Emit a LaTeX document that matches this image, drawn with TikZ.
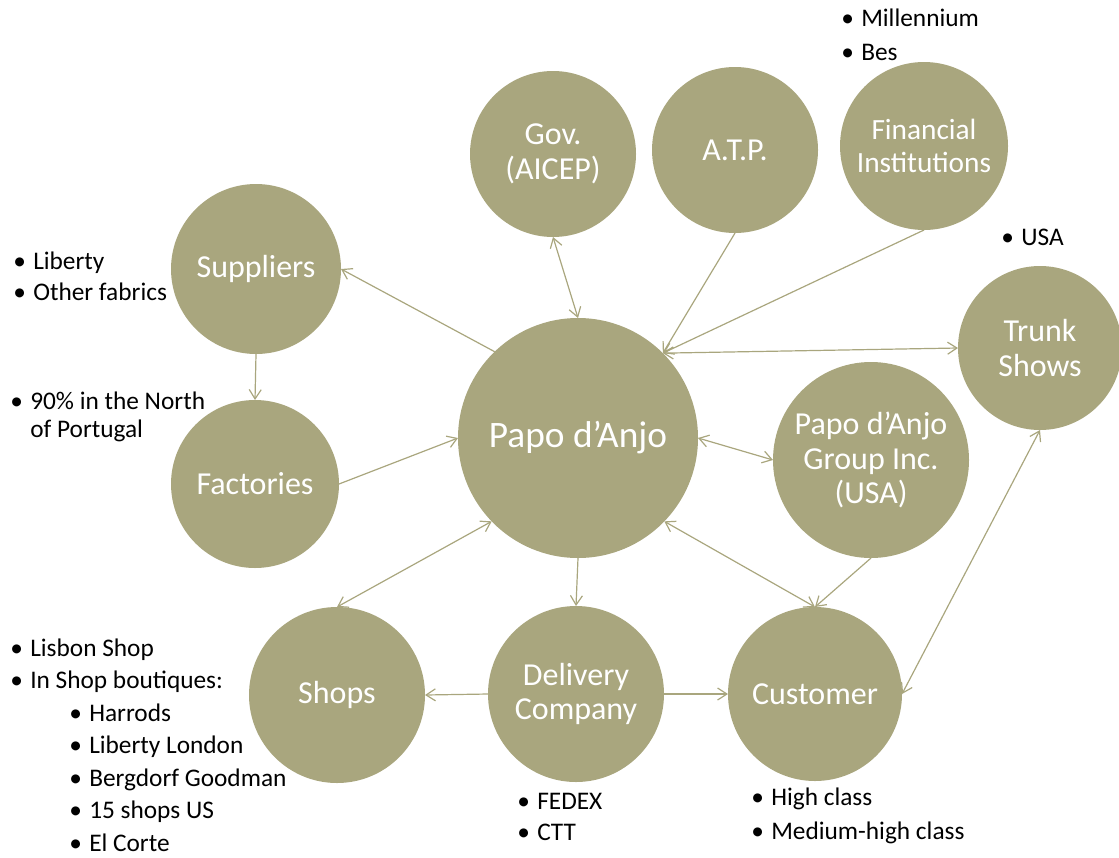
\documentclass[tikz,border=0pt]{standalone}
\usepackage{fontspec}
\setmainfont{Carlito}
\usetikzlibrary{arrows.meta}

\definecolor{olivetan}{RGB}{169,166,126}
\newcommand{\bul}{\makebox[15pt][l]{\textbullet}}

\begin{document}
\begin{tikzpicture}[x=0.75pt, y=-0.75pt,
	bubble/.style={circle, fill=olivetan, text=white, inner sep=0pt, outer sep=0pt,
		minimum size=#1*1.5pt, align=center, font=\fontsize{24}{26}\selectfont},
	link/.style={draw=olivetan, line width=0.9pt, -{Straight Barb[length=7pt,width=9pt]}},
	twoway/.style={link, {Straight Barb[length=7pt,width=9pt]}-{Straight Barb[length=7pt,width=9pt]}},
	notes/.style={anchor=base west, inner sep=0pt, font=\fontsize{19}{#1}\selectfont}]
\useasboundingbox (0,0) rectangle (1119,857);

%centre
\node[bubble=120, font=\fontsize{28}{30}\selectfont] (papo) at (578,438) {Papo d’Anjo};

%top row
\node[bubble=83] (gov) at (553,154) {Gov.\\(AICEP)};
\node[bubble=83] (atp) at (735,150) {A.T.P.};
\node[bubble=84, font=\fontsize{22}{25}\selectfont] (fin) at (924,146) {Financial\\Institutions};
\node[bubble=82] (trunk) at (1040,348) {Trunk\\Shows};
\node[bubble=98] (group) at (871,460) {Papo d’Anjo\\Group Inc.\\(USA)};

%left side
\node[bubble=85] (suppliers) at (256,269) {Suppliers};
\node[bubble=84] (factories) at (255,484) {Factories};

%bottom row
\node[bubble=88] (shops) at (337,695) {Shops};
\node[bubble=88] (delivery) at (576,694) {Delivery\\Company};
\node[bubble=87] (customer) at (815,694) {Customer};

%bullet notes
\node[notes=25.5] (finnotes) at (841,26) {\begin{tabular}[t]{@{}l@{}}\bul Millennium\\\bul Bes\end{tabular}};
\node[notes=24] (trunknotes) at (1001,245) {\begin{tabular}[t]{@{}l@{}}\bul USA\end{tabular}};
\node[notes=23.25] (suppnotes) at (13,269) {\begin{tabular}[t]{@{}l@{}}\bul Liberty\\\bul Other fabrics\end{tabular}};
\node[notes=21] (factnotes) at (10,409) {\begin{tabular}[t]{@{}l@{}}\bul 90\% in the North\\\hspace{15pt}of Portugal\end{tabular}};
\node[notes=24.4] (shopnotes) at (10,656) {\begin{tabular}[t]{@{}l@{}}\bul Lisbon Shop\\\bul In Shop boutiques:\\
	\hspace{44.25pt}\bul Harrods\\\hspace{44.25pt}\bul Liberty London\\\hspace{44.25pt}\bul Bergdorf Goodman\\
	\hspace{44.25pt}\bul 15 shops US\\\hspace{44.25pt}\bul El Corte\end{tabular}};
\node[notes=23.25] (delnotes) at (517,809) {\begin{tabular}[t]{@{}l@{}}\bul FEDEX\\\bul CTT\end{tabular}};
\node[notes=25.5] (custnotes) at (751,805) {\begin{tabular}[t]{@{}l@{}}\bul High class\\\bul Medium-high class\end{tabular}};

%connectors
\draw[link] (papo.134) -- (suppliers.east);
\draw[link] (suppliers.south) -- (factories.north);
\draw[link] (factories.east) -- (papo.west);
\draw[twoway] (gov.south) -- (papo.north);
\draw[link] (atp.south) -- (papo.45);
\draw[link] (fin.south) -- (papo.45);
\draw[twoway] (papo.45) -- (trunk.west);
\draw[twoway] (papo.east) -- (group.west);
\draw[twoway] (papo.-136) -- (shops.north);
\draw[link] (papo.south) -- (delivery.north);
\draw[twoway] (papo.-44) -- (customer.north);
\draw[link] (group.south) -- (customer.north);
\draw[twoway] (trunk.south) -- (customer.east);
\draw[link] (delivery.west) -- (shops.east);
\draw[link] (delivery.east) -- (customer.west);
\end{tikzpicture}
\end{document}
